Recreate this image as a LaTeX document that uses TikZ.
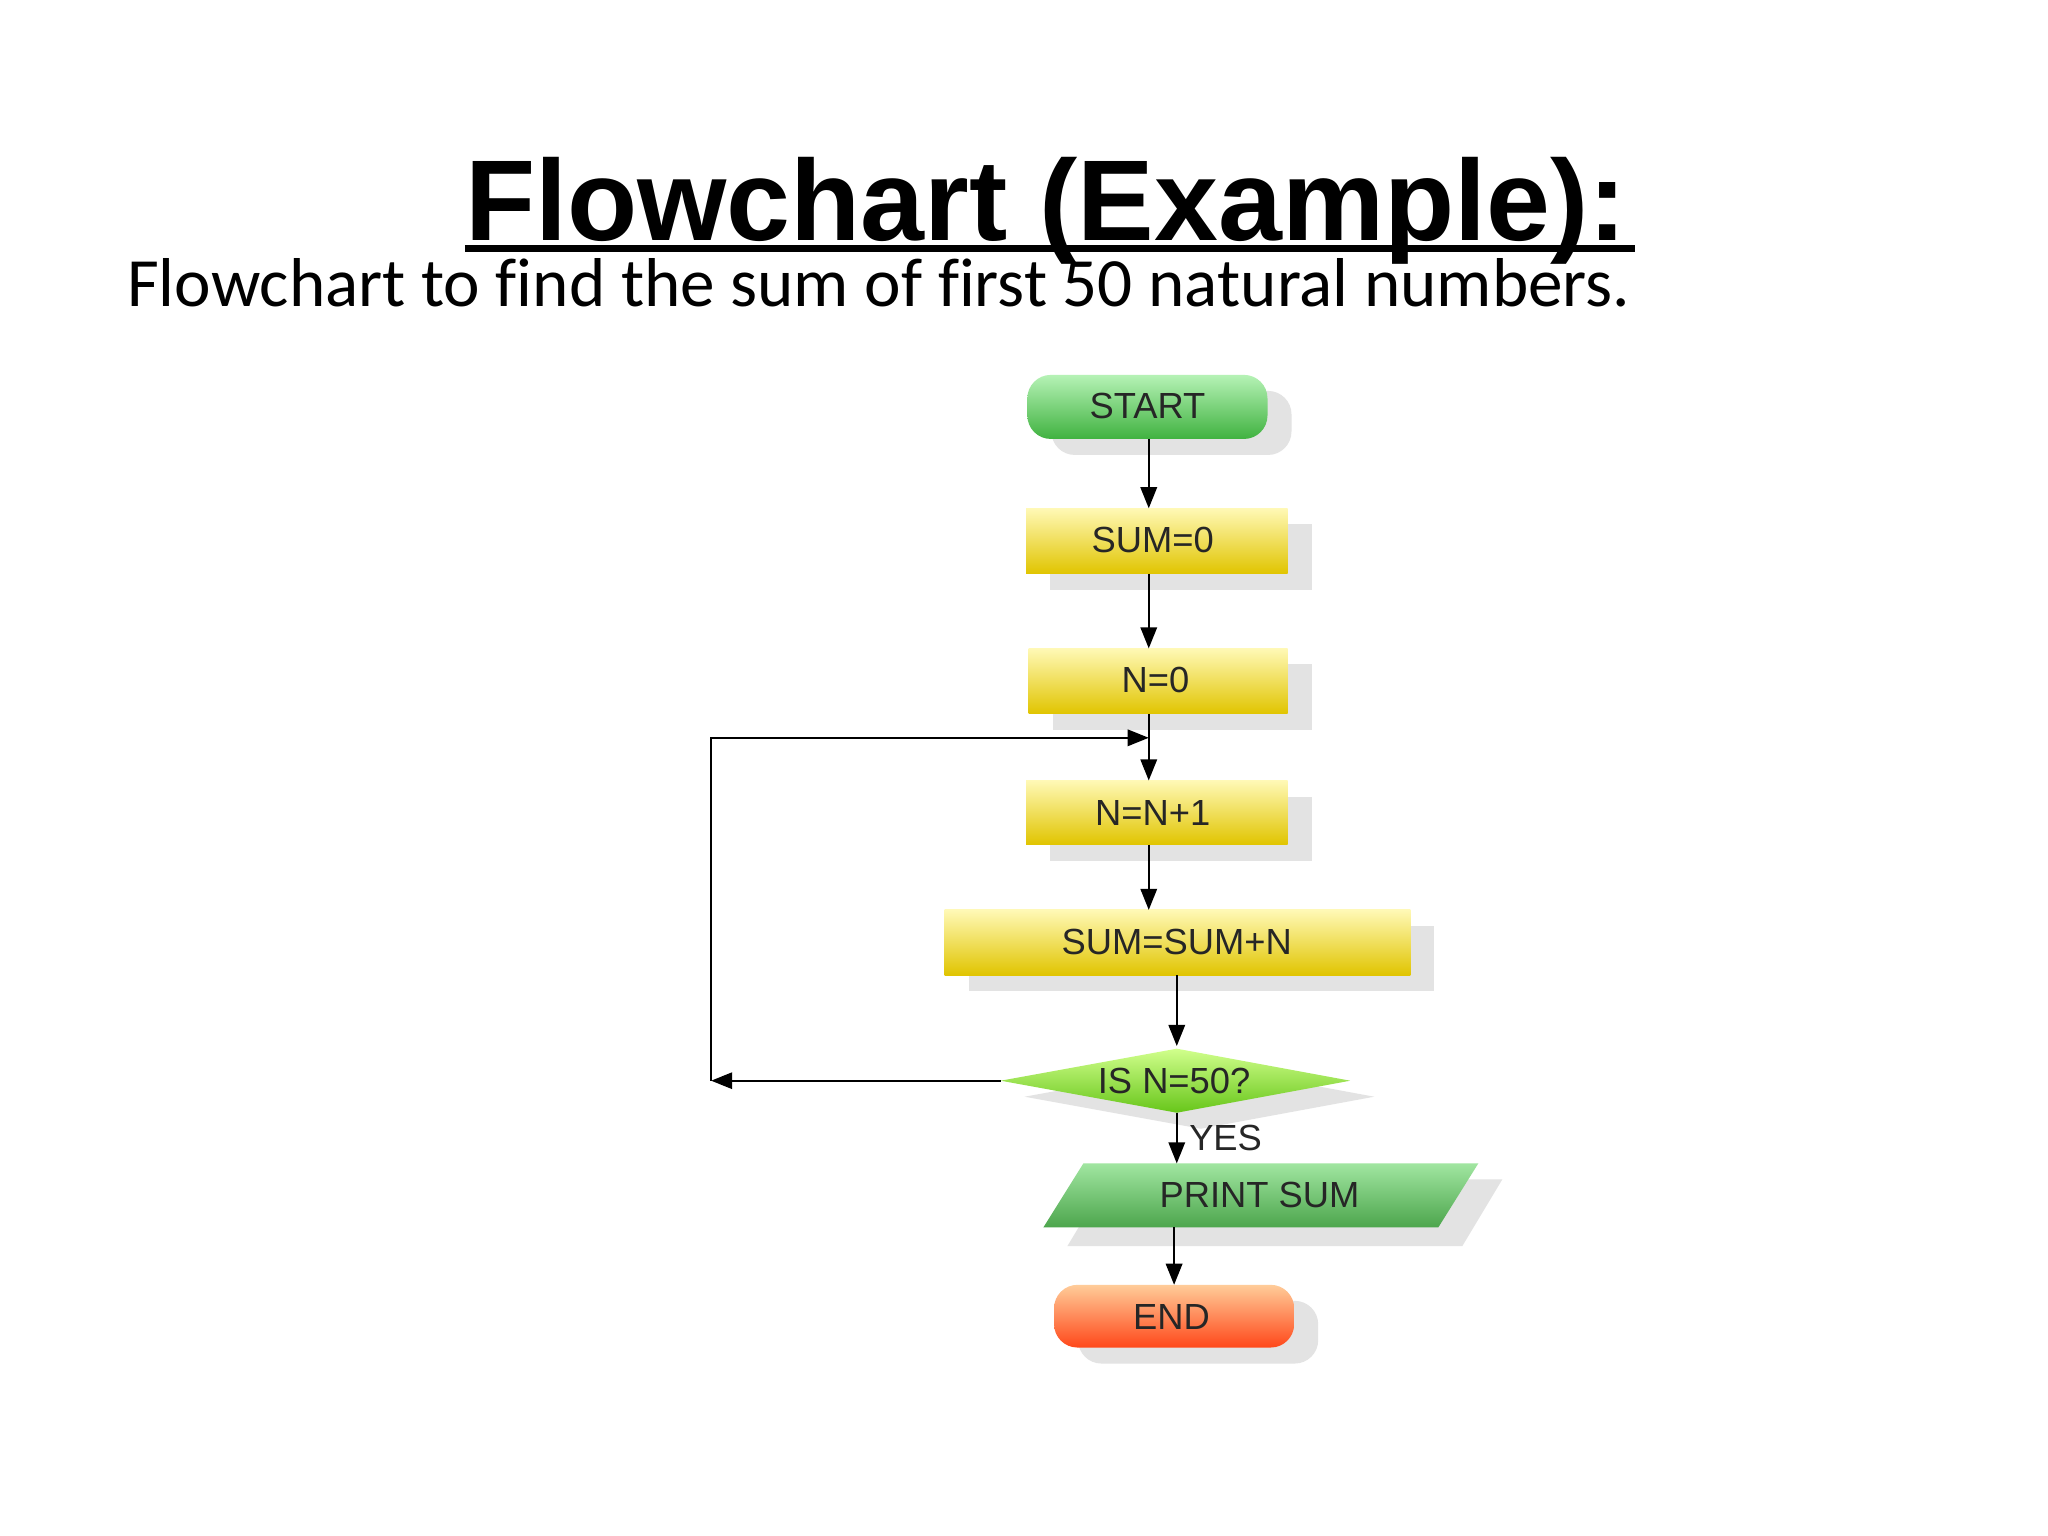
\documentclass[tikz,border=0pt]{standalone}
\usepackage{fontspec}
\setmainfont{Liberation Sans}
\newfontfamily\carlitofont[Ligatures=NoCommon]{Carlito}
\usetikzlibrary{shapes.geometric,arrows.meta}
\begin{document}
\begin{tikzpicture}[x=0.02cm,y=-0.02cm,
 shadowbox/.style={fill=black!11},
 lbl/.style={font=\fontsize{15.5}{15.5}\selectfont,text=black!85},
 ybox/.style={top color=yellow!25!white!95!orange,bottom color=yellow!75!orange!88!black},
 arr/.style={-{Triangle[length=9pt,width=7pt]},line width=0.9pt}]
\useasboundingbox[fill=white] (0,0) rectangle (1535,1151);
\node[anchor=base,inner sep=0,font=\bfseries\fontsize{49}{49}\selectfont] (title) at (784,180) {Flowchart (Example):};
\draw[line width=3pt] (title.base west)++(0,6) -- ++(877,0);
\node[anchor=base west,inner sep=0,font=\carlitofont\fontsize{29.5}{29.5}\selectfont] (sub) at (95,230) {Flowchart to find the sum of first 50 natural numbers.};
% shadows
\fill[shadowbox,rounded corners=10pt] (788,293) rectangle (968,341);
\fill[shadowbox] (787,393) rectangle (983,442);
\fill[shadowbox] (789,498) rectangle (983,547);
\fill[shadowbox] (787,597) rectangle (983,645);
\fill[shadowbox] (726,694) rectangle (1075,743);
\fill[shadowbox] (768,822) -- (900,798) -- (1030,822) -- (900,846) -- cycle;
\fill[shadowbox] (800,934) -- (830,884) -- (1126,884) -- (1096,934) -- cycle;
\fill[shadowbox,rounded corners=10pt] (808,975) rectangle (988,1022);
% nodes
\path[rounded corners=10pt,top color=green!25!white!95!black,bottom color=green!60!black!75] (770,281) rectangle (950,329);
\node[lbl] (start) at (860,304) {START};
\path[ybox] (769,381) rectangle (965,430);
\node[lbl] (s0) at (864,405) {SUM=0};
\path[ybox] (771,486) rectangle (965,535);
\node[lbl] (n0) at (866,510) {N=0};
\path[ybox] (769,585) rectangle (965,633);
\node[lbl] (n1) at (864,609) {N=N+1};
\path[ybox] (708,682) rectangle (1057,731);
\node[lbl] (sn) at (882,706) {SUM=SUM+N};
\path[top color=green!40!yellow!45,bottom color=green!55!yellow!75!black!90] (750,810) -- (882,786) -- (1012,810) -- (882,834) -- cycle;
\node[lbl] (dec) at (880,810) {IS N=50?};
\path[top color=green!30!white!90!black,bottom color=green!50!black!70] (782,920) -- (812,872) -- (1108,872) -- (1078,920) -- cycle;
\node[lbl] (pr) at (944,896) {PRINT SUM};
\path[rounded corners=10pt,top color=orange!40,bottom color=red!60!orange!90] (790,963) rectangle (970,1010);
\node[lbl] (end) at (878,987) {END};
\node[lbl,anchor=west,inner sep=0] (yes) at (891,853) {YES};
% connectors
\coordinate (a1) at (861,329); \coordinate (a2) at (861,381);
\coordinate (b1) at (861,430); \coordinate (b2) at (861,486);
\coordinate (c1) at (861,535); \coordinate (c2) at (861,585);
\coordinate (d1) at (861,633); \coordinate (d2) at (861,682);
\coordinate (e1) at (882,731); \coordinate (e2) at (882,784);
\coordinate (f1) at (882,834); \coordinate (f2) at (882,872);
\coordinate (g1) at (880,920); \coordinate (g2) at (880,963);
\coordinate (l0) at (750,810); \coordinate (l1) at (533,810);
\coordinate (l2) at (533,553); \coordinate (l3) at (861,553);
\draw[arr] (a1)--(a2); \draw[arr] (b1)--(b2); \draw[arr] (c1)--(c2);
\draw[arr] (d1)--(d2); \draw[arr] (e1)--(e2); \draw[arr] (f1)--(f2);
\draw[arr] (g1)--(g2);
\draw[arr] (l0)--(l1);
\draw[arr] (l1)--(l2)--(l3);
\end{tikzpicture}
\end{document}
